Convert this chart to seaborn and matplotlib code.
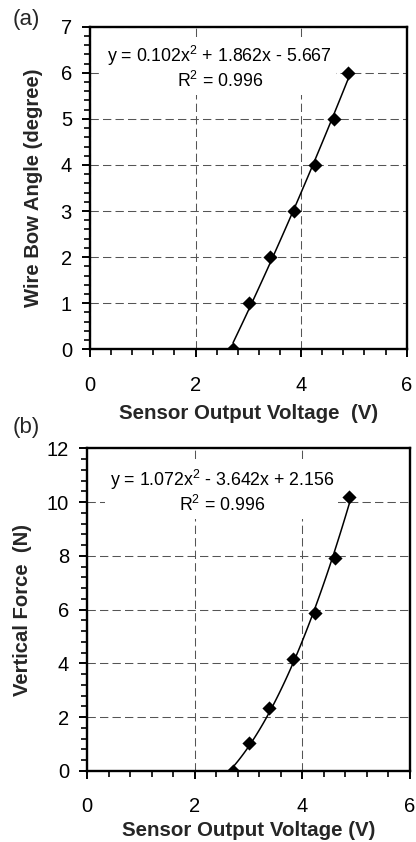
import numpy as np
import pandas as pd
import matplotlib
matplotlib.use("Agg")
import matplotlib.pyplot as plt
import seaborn as sns
from matplotlib.ticker import MultipleLocator

# ---- data ----
voltage_a = [2.71, 3.01, 3.41, 3.86, 4.27, 4.62, 4.89]
angle_a = [0, 1, 2, 3, 4, 5, 6]

voltage_b = [2.71, 3.01, 3.38, 3.83, 4.24, 4.60, 4.87]
force_b = [0.0, 1.03, 2.33, 4.15, 5.86, 7.93, 10.2]

eq_a = "y = 0.102x$^2$ + 1.862x - 5.667\nR$^2$ = 0.996"
eq_b = "y = 1.072x$^2$ - 3.642x + 2.156\nR$^2$ = 0.996"

xlabel_a = "Sensor Output Voltage  (V)"
xlabel_b = "Sensor Output Voltage (V)"
ylabel_a = "Wire Bow Angle (degree)"
ylabel_b = "Vertical Force  (N)"

sns.set_theme(style="white")
plt.rcParams["font.family"] = ["Liberation Sans", "DejaVu Sans"]
plt.rcParams["mathtext.fontset"] = "custom"
plt.rcParams["mathtext.rm"] = "Liberation Sans"
plt.rcParams["mathtext.default"] = "regular"

W, H = 416, 842
fig = plt.figure(figsize=(W / 100, H / 100), dpi=100)
fig.patch.set_facecolor("white")


def px_axes(l, r, t, b):
    return fig.add_axes([l / W, 1 - b / H, (r - l) / W, (b - t) / H])


ax_a = px_axes(90, 406.7, 26.7, 349.3)
ax_b = px_axes(87.3, 410, 448.3, 771)

df_a = pd.DataFrame({"v": voltage_a, "y": angle_a})
df_b = pd.DataFrame({"v": voltage_b, "y": force_b})

panels = [
    (ax_a, df_a, 7, 1, 0.2, eq_a, xlabel_a, ylabel_a, (0.41, 0.874), 7, 12.5),
    (ax_b, df_b, 12, 2, 0.4, eq_b, xlabel_b, ylabel_b, (0.417, 0.866), 3, 10.5),
]

for ax, df, ymax, ymaj, ymin_step, eq, xl, yl, tpos, xpad, ypad in panels:
    ax.set_facecolor("white")
    sns.regplot(data=df, x="v", y="y", order=2, ci=None, ax=ax,
                marker="D",
                scatter_kws=dict(s=52, color="black", edgecolor="black",
                                 linewidths=0, alpha=1, zorder=5),
                line_kws=dict(color="black", lw=1.1, zorder=4))
    ax.set_xlim(0, 6)
    ax.set_ylim(0, ymax)
    ax.xaxis.set_major_locator(MultipleLocator(2))
    ax.xaxis.set_minor_locator(MultipleLocator(0.4))
    ax.yaxis.set_major_locator(MultipleLocator(ymaj))
    ax.yaxis.set_minor_locator(MultipleLocator(ymin_step))
    ax.grid(True, which="major", color="#555555", lw=0.75,
            linestyle=(0, (8, 4)), zorder=1)
    ax.set_axisbelow(True)
    for s in ax.spines.values():
        s.set_color("black")
        s.set_linewidth(1.7)
        s.set_visible(True)
    ax.tick_params(axis="both", which="major", direction="out", length=6,
                   width=1.4, color="black", labelsize=14.5, labelcolor="black")
    ax.tick_params(axis="x", which="major", pad=13)
    ax.tick_params(axis="y", which="major", pad=7)
    ax.tick_params(axis="both", which="minor", direction="out", length=4,
                   width=1.2, color="black")
    ax.tick_params(bottom=True, left=True, which="both")
    ax.set_xlabel(xl, fontsize=14.8, fontweight="bold", labelpad=xpad)
    ax.set_ylabel(yl, fontsize=14.6, fontweight="bold", labelpad=ypad)
    ax.text(tpos[0], tpos[1], eq, transform=ax.transAxes, ha="center",
            va="center", multialignment="center", fontsize=12.8,
            linespacing=1.15, color="black", zorder=3,
            bbox=dict(facecolor="white", edgecolor="none", pad=3))

fig.text(13 / W, 1 - 20 / H, "(a)", fontsize=16, ha="left", va="center")
fig.text(13 / W, 1 - 427 / H, "(b)", fontsize=16, ha="left", va="center")

fig.savefig("out.png", dpi=100, facecolor="white")
